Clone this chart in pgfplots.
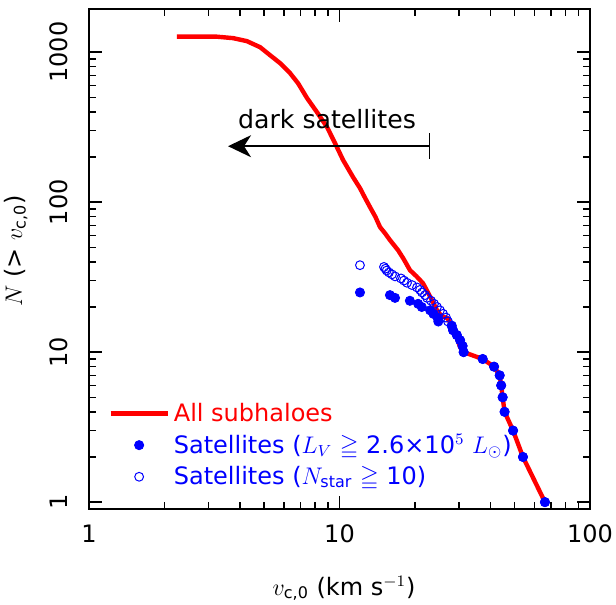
\documentclass[border=0pt]{standalone}
\usepackage{amsmath,amssymb}
\usepackage{graphicx}
\usepackage{pgfplots}
\pgfplotsset{compat=1.18}
\usepackage{fontspec}
\setmainfont{DejaVu Sans}
\usetikzlibrary{arrows.meta}

\pgfplotsset{
  lineleg/.style={legend image code/.code={\draw[##1] (0pt,0pt) -- (28.5pt,0pt);}},
  markleg/.style={legend image code/.code={\draw[mark repeat=2,mark phase=2,##1] plot coordinates {(0pt,0pt) (14.25pt,0pt) (28.5pt,0pt)};}},
}

\begin{document}
\begin{tikzpicture}[font=\fontsize{12}{14.4}\selectfont]
\begin{axis}[
  xmode=log, ymode=log,
  scale only axis, width=250.5pt, height=250pt,
  xmin=1, xmax=100, ymin=0.9, ymax=1940,
  xtick={1,10,100}, xticklabels={1,10,100},
  ytick={1,10,100,1000},
  yticklabels={\rotatebox{90}{1},\rotatebox{90}{10},\rotatebox{90}{100},\rotatebox{90}{1000}},
  minor xtick={2,3,4,5,6,7,8,9,20,30,40,50,60,70,80,90},
  minor ytick={2,3,4,5,6,7,8,9,20,30,40,50,60,70,80,90,200,300,400,500,600,700,800,900},
  tick align=inside,
  major tick length=6.5pt, minor tick length=3.5pt,
  every tick/.style={black, line width=0.75pt},
  axis line style={line width=1pt},
  x tick label style={anchor=base, yshift=-16.5pt},
  y tick label style={anchor=east, inner sep=0pt, xshift=-10.5pt},
  xlabel={$v_{\text{c,0}}$ (km s$^{-1}$)},
  ylabel={$N$ (> $v_{\text{c,0}}$)},
  xlabel style={at={([yshift=-43pt]rel axis cs:0.509,0)}, anchor=base},
  ylabel style={at={([xshift=-33.5pt]rel axis cs:0,0.516)}, anchor=base},
  legend style={draw=none, fill=none, at={(rel axis cs:0.038,0.221)},
    anchor=north west, inner sep=0pt, row sep=1pt,
    nodes={inner sep=2pt}},
  legend cell align=left,
]
% all subhaloes
\addplot[red, line width=2.2pt, lineleg]
coordinates {
(2.245,1268) (3.24,1268) (3.76,1240) (4.27,1184) (4.82,1079) (5.28,955)
(5.79,845) (6.35,724) (6.83,621) (7.42,494) (8.13,398) (8.92,316)
(9.60,247) (10.33,191) (11.32,147) (12.07,124) (12.6,108) (13.24,92.6)
(13.9,80) (14.52,68.1) (15.2,62) (15.91,55.8) (17.12,47.9) (18.0,42)
(19.11,35.2) (20.3,32) (21.54,28.8) (22.4,25.5) (23.4,22.2) (24.5,19.05)
(25.6,17.3) (26.9,16.9) (28.4,14.7) (30.3,10.8) (31.3,10) (37.3,9) (41.4,8)
(43.6,7) (44.2,6) (44.8,5) (45.6,4) (49.3,3) (54.0,2) (66.1,1)
};
\addlegendentry{\textcolor{red}{All subhaloes}}

% satellites, L_V cut
\addplot[only marks, mark=*, mark size=2.3pt, blue,
  mark options={fill=blue, draw=blue}, markleg]
coordinates {
(66.1,1) (54.0,2) (49.3,3) (45.6,4) (44.8,5) (44.2,6) (43.6,7) (41.4,8)
(37.3,9) (31.3,10) (31.0,11) (30.3,12) (29.4,13) (28.4,14) (28.05,15)
(24.8,16) (24.6,17) (23.7,18) (23.0,19) (21.3,20) (20.6,21) (19.1,22)
(16.66,23) (15.9,24) (12.07,25)
};
\addlegendentry{\textcolor{blue}{Satellites ($L_V$ $\geqq$ 2.6×10$^5$ $L_\odot$)}}

% satellites, N_star cut
\addplot[only marks, mark=o, mark size=2.2pt, blue,
  mark options={line width=0.5pt, draw=blue}, markleg]
coordinates {
(12.07,38) (15.05,37) (15.26,36) (15.43,35) (15.76,34) (16.20,33) (16.66,32)
(17.60,31) (18.09,30) (18.60,29) (19.47,28) (20.39,27) (20.96,26) (21.35,25)
(21.95,24) (22.36,23) (23.19,22) (23.84,21) (24.50,20) (25.19,19) (25.90,18)
(26.62,17) (27.11,16) (28.05,15) (28.4,14) (29.4,13) (30.3,12) (31.0,11)
(31.3,10) (37.3,9) (41.4,8) (43.6,7) (44.2,6) (44.8,5) (45.6,4) (49.3,3)
(54.0,2) (66.1,1)
};
\addlegendentry{\textcolor{blue}{Satellites ($N_{\text{star}}$ $\geqq$ 10)}}

% dark satellites arrow
\draw[line width=0.75pt, {Bar[width=13pt]}-{Stealth[length=11.5pt,width=11pt,inset=3.5pt]}]
  (axis cs:23.0,236) -- (axis cs:3.59,236);
\node[anchor=base, font=\fontsize{12.6}{15}\selectfont] at (axis cs:8.92,311) {dark satellites};

\coordinate (bl) at (rel axis cs:0,0);
\coordinate (tr) at (rel axis cs:1,1);
\end{axis}
\pgfresetboundingbox
\path ([shift={(-44.5pt,-48pt)}]bl) rectangle ([shift={(13pt,4.5pt)}]tr);
\end{tikzpicture}
\end{document}
